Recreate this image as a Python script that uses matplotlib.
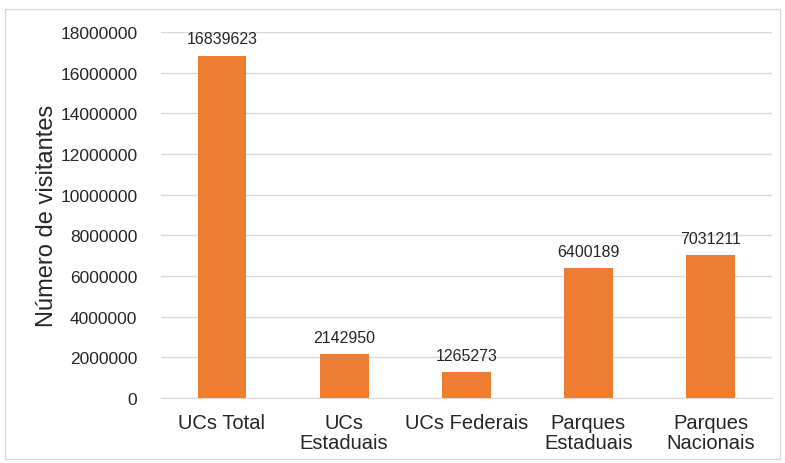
import matplotlib
matplotlib.use('Agg')
from matplotlib import pyplot as plt
from matplotlib.patches import Rectangle
import numpy as np

categories = ['UCs Total', 'UCs\nEstaduais', 'UCs Federais', 'Parques\nEstaduais', 'Parques\nNacionais']
visitors = [16839623, 2142950, 1265273, 6400189, 7031211]
yticks = np.arange(0, 18000001, 2000000)

plt.rcParams['font.family'] = ['Liberation Sans', 'DejaVu Sans']

fig = plt.figure(figsize=(7.85, 4.64), dpi=100)
fig.patches.append(Rectangle((0.006, 0.008), 0.988, 0.97, transform=fig.transFigure,
                             fill=False, edgecolor='#d9d9d9', linewidth=1))
ax = fig.add_axes([0.205, 0.140, 0.778, 0.789])

x = np.arange(len(categories))
bars = ax.bar(x, visitors, width=0.4, color='#ED7D31', zorder=3)
for b, v in zip(bars, visitors):
    ax.text(b.get_x() + b.get_width() / 2, v + 450000, str(v),
            ha='center', va='bottom', fontsize=11.5, color='#262626')

ax.set_xlim(-0.5, len(categories) - 0.5)
ax.set_ylim(0, 18000000)
ax.set_yticks(yticks)
ax.set_yticklabels([str(t) for t in yticks], fontsize=12.5, color='#262626')
ax.set_xticks(x)
ax.set_xticklabels(categories, fontsize=14.5, color='#262626', linespacing=1.05)
ax.tick_params(axis='y', length=0, pad=17)
ax.tick_params(axis='x', length=0, pad=11)
ax.grid(axis='y', color='#d9d9d9', linewidth=1, zorder=0)
for s in ['top', 'right', 'left']:
    ax.spines[s].set_visible(False)
ax.spines['bottom'].set_color('#d9d9d9')
ax.set_ylabel('Número de visitantes', fontsize=17, color='#262626')
ax.yaxis.set_label_coords(-0.169, 0.5)

fig.savefig('out.png', dpi=100)
